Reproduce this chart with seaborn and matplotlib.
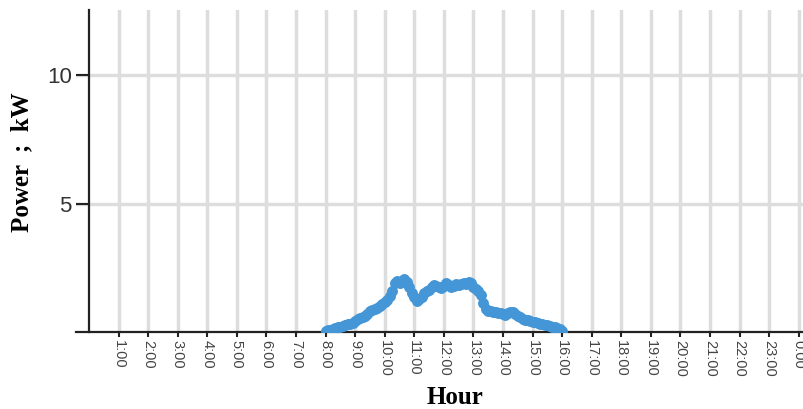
import numpy as np
import pandas as pd
import matplotlib
matplotlib.use("Agg")
import matplotlib.pyplot as plt
import seaborn as sns

# Time of day (hours, 5-minute steps from 8:00 to 16:00)
hours = [8 + i * 5 / 60 for i in range(97)]
power_kw = [
    0.03, 0.06, 0.09, 0.12, 0.15, 0.18, 0.21, 0.24, 0.27, 0.30, 0.33, 0.36,
    0.42, 0.50, 0.55, 0.57, 0.62, 0.70, 0.80, 0.85, 0.88, 0.92, 1.00, 1.08,
    1.15, 1.25, 1.40, 1.60, 1.90, 1.98, 1.92, 2.00, 2.08, 1.95, 1.75, 1.50,
    1.38, 1.22, 1.28, 1.38, 1.50, 1.58, 1.65, 1.75, 1.82, 1.80, 1.74, 1.72,
    1.78, 1.92, 1.82, 1.76, 1.80, 1.86, 1.82, 1.88, 1.90, 1.86, 1.95, 1.90,
    1.75, 1.68, 1.58, 1.45, 1.12, 0.88, 0.82, 0.80, 0.78, 0.76, 0.74, 0.72,
    0.70, 0.68, 0.72, 0.79, 0.76, 0.70, 0.64, 0.58, 0.52, 0.48, 0.45, 0.42,
    0.40, 0.37, 0.35, 0.33, 0.31, 0.29, 0.27, 0.24, 0.21, 0.18, 0.14, 0.10,
    0.05,
]
x_ticks = list(range(1, 25))
x_tick_labels = [f"{h % 24}:00" for h in x_ticks]
y_ticks = [5, 10]
y_tick_labels = ["5", "10"]

df = pd.DataFrame({"Hour": hours, "Power": power_kw})

sns.set_theme(style="white")
plt.rcParams["font.family"] = ["Liberation Sans", "DejaVu Sans"]

W, H = 804, 409
fig = plt.figure(figsize=(W / 100, H / 100), dpi=100)
left_px, right_px, top_px, bottom_px = 76, 807, 10, 332
ax = fig.add_axes([left_px / W, (H - bottom_px) / H,
                   (right_px - left_px) / W, (bottom_px - top_px) / H])

sns.scatterplot(data=df, x="Hour", y="Power", ax=ax, color="#4496d6",
                s=62, linewidth=0, zorder=3, legend=False)

ax.set_xlim(-0.44, 24.28)
ax.set_ylim(0, 12.53)

ax.tick_params(axis="y", direction="out", length=9.5, width=1.5,
               color="#222222", pad=3, left=True, labelsize=16,
               labelcolor="#333333")
ax.tick_params(axis="x", direction="out", length=3.5, width=1.5,
               color="#222222", pad=2.5, bottom=True, labelsize=10.5,
               labelcolor="#444444")

ax.set_xticks(x_ticks)
ax.set_xticklabels(x_tick_labels, rotation=-90, fontsize=10.5, color="#444444")
ax.set_yticks(y_ticks)
ax.set_yticklabels(y_tick_labels, fontsize=16, color="#333333")

ax.grid(True, color="#dddddd", linewidth=2.5, zorder=0)
ax.set_axisbelow(True)

for s in ["top", "right"]:
    ax.spines[s].set_visible(False)
ax.spines["left"].set_position(("data", 0))
ax.spines["left"].set_color("#222222")
ax.spines["left"].set_linewidth(1.6)
ax.spines["bottom"].set_color("#222222")
ax.spines["bottom"].set_linewidth(1.6)

ax.set_xlabel("Hour", fontsize=18, fontweight="bold", family="Liberation Serif",
              color="black")
ax.set_ylabel("Power  ;  kW", fontsize=18, fontweight="bold",
              family="Liberation Serif", color="black")
ax.xaxis.set_label_coords((455 - left_px) / (right_px - left_px),
                          (bottom_px - 398) / (bottom_px - top_px))
ax.yaxis.set_label_coords((22 - left_px) / (right_px - left_px),
                          (bottom_px - 162) / (bottom_px - top_px))
ax.xaxis.label.set_va("center")
ax.yaxis.label.set_va("center")

fig.savefig("out.png", dpi=100)
